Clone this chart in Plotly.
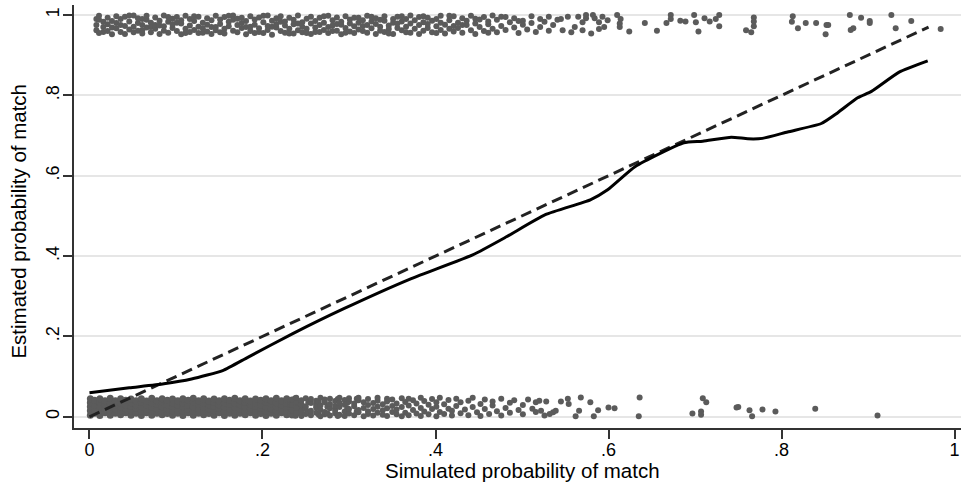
import plotly.graph_objects as go

# ---------------- data ----------------
# Lowess smoother (solid line)
lowess_x = [0.000, 0.046, 0.086, 0.118, 0.154, 0.183, 0.235, 0.294, 0.372, 0.443,
            0.482, 0.527, 0.579, 0.599, 0.631, 0.687, 0.709, 0.742, 0.761, 0.778,
            0.807, 0.846, 0.865, 0.888, 0.904, 0.936, 0.969]
lowess_y = [0.060, 0.072, 0.082, 0.094, 0.115, 0.148, 0.207, 0.269, 0.344, 0.403,
            0.448, 0.503, 0.540, 0.565, 0.623, 0.682, 0.686, 0.696, 0.692, 0.693,
            0.709, 0.730, 0.757, 0.794, 0.810, 0.858, 0.886]

# 45-degree reference line (dashed)
diag_x = [0.0, 0.97]
diag_y = [0.0, 0.97]

# Jittered outcomes = 0 : dense part (column x, jittered y values)
dense_bottom_cols = [
    (0.001, [.004, .015, .025, .035, .045]), (0.006, [.009, .020, .030, .041]),
    (0.012, [.003, .014, .025, .036, .045]), (0.018, [.010, .020, .031, .040]),
    (0.024, [.004, .015, .024, .035, .046]), (0.030, [.009, .019, .030, .040]),
    (0.036, [.005, .014, .025, .034, .045]), (0.042, [.010, .020, .029, .041]),
    (0.048, [.004, .015, .026, .035, .044]), (0.054, [.009, .021, .030, .040]),
    (0.060, [.003, .014, .025, .036, .045]), (0.066, [.010, .019, .030, .039]),
    (0.072, [.004, .015, .024, .035, .046]), (0.078, [.009, .020, .031, .040]),
    (0.084, [.005, .014, .025, .036, .045]), (0.090, [.008, .020, .030, .041]),
    (0.096, [.004, .015, .026, .035, .044]), (0.102, [.009, .021, .029, .040]),
    (0.108, [.003, .014, .025, .034, .045]), (0.114, [.010, .020, .030, .041]),
    (0.120, [.004, .015, .024, .036, .046]), (0.126, [.009, .019, .031, .040]),
    (0.132, [.005, .014, .025, .035, .045]), (0.138, [.008, .020, .030, .039]),
    (0.144, [.004, .015, .026, .036, .044]), (0.150, [.010, .021, .029, .040]),
    (0.156, [.003, .014, .025, .035, .045]), (0.162, [.009, .020, .031, .041]),
    (0.168, [.004, .015, .024, .034, .046]), (0.174, [.009, .019, .030, .040]),
    (0.180, [.005, .014, .025, .036, .045]), (0.186, [.010, .020, .030, .039]),
    (0.192, [.004, .015, .026, .035, .044]), (0.198, [.008, .021, .029, .041]),
    (0.204, [.003, .014, .025, .036, .045]), (0.210, [.009, .020, .031, .040]),
    (0.216, [.004, .015, .024, .035, .046]), (0.222, [.010, .019, .030, .040]),
    (0.228, [.005, .014, .025, .034, .045]), (0.233, [.009, .020, .031, .040]),
    (0.238, [.004, .015, .026, .045]), (0.243, [.010, .021, .036]),
]

# Jittered outcomes = 0 : thinning part
bottom_cols = [
    (0.234, [.003, .016, .029, .043]), (0.239, [.009, .022, .037, .047]),
    (0.245, [.002, .013, .031, .041]), (0.250, [.007, .019, .026, .046]),
    (0.253, [.012, .036]),
    (0.256, [.004, .015, .034, .044]), (0.262, [.010, .023, .030, .040]),
    (0.265, [.005, .038]),
    (0.267, [.001, .017, .028, .047]), (0.272, [.006, .012, .036, .043]),
    (0.275, [.025, .009]),
    (0.278, [.003, .021, .032, .045]), (0.284, [.009, .016, .027, .039]),
    (0.287, [.002, .044]),
    (0.289, [.005, .024, .035, .047]), (0.295, [.002, .013, .030, .042]),
    (0.298, [.021, .035]),
    (0.300, [.008, .019, .038, .046]), (0.306, [.004, .026, .033]),
    (0.309, [.014, .045]),
    (0.311, [.011, .017, .041, .047]), (0.317, [.001, .022, .036]),
    (0.322, [.007, .014, .029, .044]), (0.328, [.003, .019, .034]),
    (0.333, [.010, .025, .040, .047]), (0.339, [.005, .016, .031]),
    (0.344, [.002, .021, .038, .045]), (0.350, [.012, .027, .043]),
    (0.355, [.006, .018, .033]), (0.361, [.001, .024, .046]),
    (0.365, [.010, .037]), (0.369, [.004, .028, .045]), (0.374, [.017, .041]),
    (0.378, [.008, .033]), (0.383, [.002, .022, .047]), (0.387, [.013, .039]),
    (0.392, [.006, .030]), (0.396, [.019, .044]), (0.401, [.001, .025, .036]),
    (0.405, [.012, .047]), (0.410, [.007, .031]), (0.415, [.020, .042]),
    (0.419, [.003, .015]), (0.424, [.027, .045]), (0.429, [.009, .036]),
    (0.434, [.018]), (0.438, [.004, .040]), (0.443, [.024, .047]),
    (0.448, [.011]), (0.452, [.032, .002]), (0.457, [.019, .043]),
    (0.462, [.007]), (0.466, [.028, .038]), (0.471, [.014]),
    (0.476, [.045, .003]), (0.481, [.022]), (0.486, [.010, .035]),
    (0.491, [.041]), (0.496, [.017]), (0.501, [.006, .029]),
    (0.507, [.043]), (0.512, [.020]), (0.516, [.012, .036]),
]

# Jittered outcomes = 0 : isolated points
bottom_sparse_x = [0.522, 0.526, 0.532, 0.536, 0.539, 0.520, 0.528, 0.545, 0.553, 0.554,
                   0.568, 0.579, 0.566, 0.562, 0.588, 0.583, 0.600, 0.607, 0.636, 0.635,
                   0.697, 0.707, 0.707, 0.709, 0.713, 0.748, 0.750, 0.763, 0.766, 0.778,
                   0.793, 0.839, 0.911]
bottom_sparse_y = [0.015, 0.003, 0.007, 0.011, 0.015, 0.040, 0.038, 0.038, 0.045, 0.032,
                   0.048, 0.036, 0.015, 0.001, 0.016, 0.001, 0.023, 0.021, 0.048, 0.001,
                   0.008, 0.013, 0.005, 0.046, 0.036, 0.023, 0.024, 0.016, 0.001, 0.018,
                   0.013, 0.020, 0.003]

# Jittered outcomes = 1 : (column x, jittered y values)
top_cols = [
    (0.008, [.975, .962, .990]), (0.011, [.988, .955, .998]), (0.016, [.970, .983, .958]),
    (0.021, [.960, .993, .977]), (0.026, [.952, .985, .969]), (0.031, [.967, .997, .980]),
    (0.036, [.958, .990, .975]), (0.041, [.973, .953, .996]), (0.046, [.984, .964, .999]),
    (0.051, [.999, .971, .957]), (0.056, [.980, .992, .961]), (0.061, [.962, .975, .954, .990]),
    (0.066, [.988, .969, .998]), (0.071, [.957, .981, .970]), (0.076, [.994, .966, .975]),
    (0.081, [.953, .986, .974]), (0.086, [.972, .999, .961]), (0.091, [.983, .956, .995]),
    (0.096, [.991, .968, .977]), (0.101, [.960, .995, .981]), (0.106, [.979, .952, .987]),
    (0.111, [.966, .998, .955]), (0.116, [.974, .958, .990]), (0.121, [.985, .963, .997]),
    (0.126, [.996, .955, .971]), (0.131, [.981, .967, .956]), (0.136, [.959, .992, .976]),
    (0.141, [.987, .953, .970]), (0.146, [.970, .998, .962]), (0.151, [.978, .989, .957]),
    (0.156, [.954, .966, .995]), (0.161, [.983, .972, .998]), (0.166, [.961, .999, .988]),
    (0.171, [.975, .957, .991]), (0.176, [.993, .968, .980]), (0.181, [.952, .985, .970]),
    (0.186, [.971, .997, .960]), (0.191, [.989, .976, .955]), (0.196, [.958, .994, .967]),
    (0.201, [.982, .955, .998]), (0.206, [.999, .973, .963]), (0.211, [.986, .951, .971]),
    (0.216, [.969, .992, .978]), (0.221, [.960, .997, .983]), (0.226, [.984, .956, .974]),
    (0.231, [.993, .966, .954]), (0.236, [.977, .954, .988]), (0.241, [.962, .999, .979]),
    (0.246, [.971, .982, .957]), (0.251, [.991, .966, .955]), (0.256, [.953, .979, .996]),
    (0.261, [.985, .969, .958]), (0.266, [.958, .993, .975]), (0.271, [.981, .963, .997]),
    (0.276, [.998, .970, .955]), (0.281, [.987, .974, .960]), (0.286, [.961, .994, .978]),
    (0.291, [.976, .952, .983]), (0.296, [.968, .997, .956]), (0.301, [.989, .959, .979]),
    (0.306, [.955, .972, .993]), (0.311, [.993, .981, .964]), (0.316, [.960, .987, .973]),
    (0.321, [.975, .998, .956]), (0.326, [.967, .984, .996]), (0.331, [.992, .953, .978]),
    (0.336, [.971, .961, .988]), (0.341, [.986, .997, .958]), (0.346, [.974, .965, .954]),
    (0.351, [.953, .990, .981]), (0.356, [.968, .996, .979]), (0.361, [.984, .962, .997]),
    (0.366, [.971, .990, .957]), (0.371, [.956, .979, .999]), (0.376, [.966, .987]),
    (0.381, [.995, .975, .953]), (0.386, [.982, .961, .997]), (0.391, [.968, .993, .978]),
    (0.396, [.957, .986]), (0.401, [.990, .972, .955]), (0.406, [.963, .998, .981]),
    (0.411, [.954, .976]), (0.416, [.987, .966, .998]), (0.421, [.997, .973, .959]),
    (0.426, [.981, .968]), (0.431, [.992, .956, .975]), (0.436, [.975, .986]),
    (0.441, [.962, .998]), (0.446, [.979, .953, .991]), (0.451, [.989, .970]),
    (0.456, [.960, .995]), (0.461, [.977, .984, .956]), (0.466, [.966, .999]),
    (0.471, [.988, .957]), (0.476, [.973, .996]), (0.481, [.995, .963]),
    (0.486, [.982]), (0.491, [.969, .992]), (0.496, [.955, .985]),
    (0.501, [.986, .976]), (0.506, [.964]), (0.511, [.997, .980]),
    (0.516, [.958]), (0.521, [.990, .970]), (0.526, [.983]),
    (0.531, [.961, .996]), (0.536, [.975]), (0.541, [.988]),
]

# Jittered outcomes = 1 : isolated points
top_sparse_x = [0.545, 0.553, 0.547, 0.557, 0.561, 0.565, 0.570, 0.570, 0.574, 0.574,
                0.580, 0.582, 0.584, 0.589, 0.589, 0.593, 0.595, 0.599, 0.610, 0.613,
                0.614, 0.613, 0.624, 0.642, 0.656, 0.667, 0.672, 0.672, 0.683, 0.689,
                0.699, 0.701, 0.704, 0.711, 0.717, 0.724, 0.728, 0.728, 0.759, 0.765,
                0.768, 0.768, 0.768, 0.813, 0.812, 0.819, 0.828, 0.840, 0.852, 0.854,
                0.851, 0.879, 0.880, 0.883, 0.892, 0.902, 0.902, 0.927, 0.932, 0.950,
                0.984]
top_sparse_y = [0.990, 0.996, 0.962, 0.957, 0.970, 0.996, 0.982, 0.962, 1.000, 0.992,
                0.954, 1.000, 0.992, 0.982, 0.965, 0.996, 0.970, 0.987, 1.000, 0.979,
                0.990, 0.970, 0.959, 0.980, 0.961, 0.980, 1.000, 0.990, 0.986, 0.984,
                1.000, 0.982, 0.959, 0.992, 0.984, 0.990, 1.000, 0.972, 0.962, 0.957,
                0.994, 0.984, 0.972, 0.997, 0.983, 0.967, 0.980, 0.980, 0.975, 0.975,
                0.952, 1.000, 0.963, 0.967, 0.993, 0.985, 0.980, 1.000, 0.967, 0.985,
                0.965]

tick_vals = [0, 0.2, 0.4, 0.6, 0.8, 1]
tick_text = ["0", ".2", ".4", ".6", ".8", "1"]
x_title = "Simulated probability of match"
y_title = "Estimated probability of match"

# ---------------- build ----------------
def expand(cols):
    xs, ys = [], []
    for cx, cy in cols:
        for v in cy:
            xs.append(cx)
            ys.append(v)
    return xs, ys

dense_x, dense_y = expand(dense_bottom_cols)
bx, by = expand(bottom_cols)
tx, ty = expand(top_cols)
pts_x = bx + bottom_sparse_x + tx + top_sparse_x
pts_y = by + bottom_sparse_y + ty + top_sparse_y

PT = "#5b5b5b"
FONT = "Liberation Sans, Arial, sans-serif"

fig = go.Figure()
fig.add_trace(go.Scatter(x=dense_x, y=dense_y, mode="markers",
                         marker=dict(size=7, color=PT, line=dict(width=0)),
                         hoverinfo="skip"))
fig.add_trace(go.Scatter(x=pts_x, y=pts_y, mode="markers",
                         marker=dict(size=6, color=PT, line=dict(width=0))))
fig.add_trace(go.Scatter(x=diag_x, y=diag_y, mode="lines",
                         line=dict(color="#222222", width=3, dash="11px,6px")))
fig.add_trace(go.Scatter(x=lowess_x, y=lowess_y, mode="lines",
                         line=dict(color="#000000", width=3, shape="spline", smoothing=0.5)))

axis_common = dict(
    tickvals=tick_vals, ticktext=tick_text,
    ticks="outside", ticklen=9, tickwidth=1.5, tickcolor="#333333",
    showline=True, linecolor="#333333", linewidth=1.5,
    zeroline=False, tickfont=dict(family=FONT, size=18, color="#000000"),
    fixedrange=True,
)

fig.update_layout(
    width=961, height=485,
    margin=dict(l=74, r=0, t=5, b=57),
    paper_bgcolor="white", plot_bgcolor="white",
    showlegend=False,
    font=dict(family=FONT, color="#000000"),
    xaxis=dict(range=[-0.0179, 1.0075], showgrid=False, ticklabelstandoff=-4,
               **axis_common),
    yaxis=dict(range=[-0.028, 1.025], showgrid=True, gridcolor="#e6e6e6", gridwidth=1.5,
               tickangle=-90, ticklabelstandoff=-3,
               **axis_common),
    annotations=[
        dict(text=x_title, xref="x", yref="paper", x=0.5, y=-0.0993,
             xanchor="center", yanchor="middle", showarrow=False,
             font=dict(family=FONT, size=20.5, color="#000000")),
        dict(text=y_title, xref="paper", yref="paper", x=-0.062, y=0.488,
             xanchor="center", yanchor="middle", showarrow=False, textangle=-90,
             font=dict(family=FONT, size=20.5, color="#000000")),
    ],
)

fig.write_html("out.html", config={"displayModeBar": False},
               post_script="document.body.style.margin='0';")
